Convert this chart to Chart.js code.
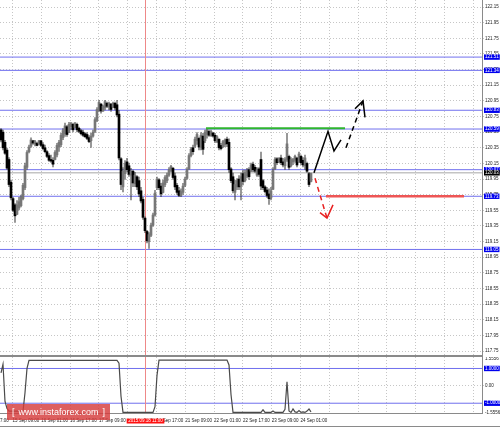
<!DOCTYPE html>
<html>
<head>
<meta charset="utf-8">
<script src="https://cdn.jsdelivr.net/npm/chart.js@4.4.1/dist/chart.umd.min.js"></script>
<style>
  body { margin: 0; background: #fff; }
  #wrap { position: relative; width: 500px; height: 427px; overflow: hidden; background: #fff; }
  #main { position: absolute; left: 0; top: 0; }
  #ind { position: absolute; left: 0; top: 357px; }
  .ln { position: absolute; background: #8a8a8a; }
  #wm { position: absolute; left: 7px; top: 404px; width: 103px; height: 16px; box-sizing: border-box; padding: 0 5px;
        background: rgba(214, 60, 60, 0.82); color: #fff; font: 9px Arial, "Liberation Sans", sans-serif;
        display: flex; align-items: center; justify-content: space-between; }
</style>
</head>
<body>
<div id="wrap">
  <canvas id="main" width="500" height="355"></canvas>
  <canvas id="ind" width="500" height="70"></canvas>
  <div class="ln" style="left:0;top:355px;width:482px;height:2px"></div>
  <div class="ln" style="left:482px;top:0;width:1px;height:414px"></div>
  <div class="ln" style="left:0;top:413px;width:483px;height:1px"></div>
  <div class="ln" style="left:0;top:426px;width:500px;height:1px"></div>
  <div id="wm"><span>[</span><span>www.instaforex.com</span><span>]</span></div>
</div>
<script>
// hourly candles (price)
const opens = [
  120.58,120.55,120.42,120.32,120.20,119.91,119.70,119.62,119.50,119.58,
  119.61,119.70,119.84,120.10,120.30,120.37,120.44,120.40,120.41,120.40,
  120.44,120.39,120.35,120.30,120.25,120.20,120.19,120.20,120.26,120.36,
  120.39,120.48,120.53,120.62,120.55,120.62,120.65,120.61,120.65,120.60,
  120.57,120.55,120.53,120.52,120.48,120.44,120.50,120.56,120.70,120.83,
  120.91,120.82,120.86,120.92,120.87,120.91,120.87,120.92,120.90,120.78,
  120.21,119.85,120.02,120.17,120.12,120.00,120.05,119.89,119.98,119.93,
  119.80,119.69,119.45,119.28,119.15,119.23,119.36,119.49,119.84,119.94,
  119.86,119.78,119.88,119.93,120.00,120.06,120.09,119.99,119.87,119.80,
  119.74,119.78,119.87,119.96,120.08,120.25,120.35,120.37,120.44,120.47,
  120.36,120.50,120.44,120.52,120.56,120.51,120.54,120.51,120.43,120.46,
  120.38,120.36,120.39,120.46,120.42,120.08,119.98,119.78,119.85,119.95,
  119.86,120.02,119.93,119.99,120.07,120.05,120.14,120.10,120.00,120.08,
  120.20,119.93,119.85,119.81,119.76,119.71,119.82,120.08,120.21,120.17,
  120.22,120.17,120.12,120.20,120.24,120.12,120.17,120.19,120.22,120.17,
  120.24,120.19,120.12,120.15,120.02,119.92
];
const closes = [
  120.45,120.35,120.28,120.09,119.88,119.71,119.55,119.48,119.62,119.66,
  119.72,119.87,120.12,120.29,120.36,120.45,120.41,120.43,120.38,120.44,
  120.38,120.34,120.30,120.24,120.19,120.18,120.14,120.29,120.38,120.42,
  120.51,120.57,120.63,120.52,120.65,120.66,120.58,120.66,120.58,120.56,
  120.53,120.51,120.49,120.47,120.43,120.50,120.55,120.71,120.84,120.93,
  120.82,120.88,120.94,120.88,120.92,120.84,120.92,120.86,120.77,120.22,
  119.88,120.05,120.15,120.07,120.01,120.05,119.90,120.00,119.85,119.76,
  119.67,119.46,119.29,119.16,119.24,119.36,119.49,119.77,119.95,119.84,
  119.76,119.90,119.97,120.00,120.07,120.11,119.97,119.85,119.78,119.74,
  119.79,119.86,119.95,120.07,120.25,120.33,120.30,120.46,120.52,120.36,
  120.51,120.33,120.55,120.58,120.51,120.56,120.50,120.44,120.49,120.35,
  120.34,120.43,120.45,120.40,120.07,119.93,119.80,119.88,119.93,119.85,
  119.98,119.92,120.03,120.06,119.98,120.13,120.07,120.05,120.07,120.01,
  119.86,119.84,119.79,119.74,119.70,119.80,120.06,120.20,120.16,120.21,
  120.16,120.13,120.20,120.40,120.10,120.20,120.20,120.24,120.13,120.27,
  120.16,120.13,120.22,120.05,119.88,120.02
];
const highs = [
  120.60,120.58,120.45,120.35,120.23,119.94,119.72,119.64,119.68,119.72,
  119.75,119.90,120.16,120.32,120.39,120.48,120.45,120.45,120.42,120.45,
  120.45,120.42,120.39,120.32,120.28,120.26,120.23,120.32,120.41,120.45,
  120.54,120.60,120.67,120.64,120.68,120.68,120.67,120.68,120.67,120.62,
  120.59,120.58,120.55,120.55,120.51,120.54,120.58,120.74,120.87,120.96,
  120.92,120.90,120.96,120.94,120.94,120.92,120.94,120.94,120.96,120.83,
  120.23,120.10,120.19,120.22,120.16,120.09,120.07,120.04,120.00,119.98,
  119.85,119.72,119.47,119.30,119.27,119.39,119.52,119.81,119.98,119.96,
  119.90,119.94,120.00,120.03,120.10,120.13,120.10,120.03,119.90,119.85,
  119.83,119.90,119.98,120.10,120.28,120.36,120.39,120.49,120.55,120.49,
  120.55,120.54,120.58,120.60,120.58,120.58,120.55,120.54,120.51,120.47,
  120.41,120.45,120.47,120.49,120.47,120.10,120.03,119.94,119.96,120.00,
  120.03,120.07,120.07,120.09,120.10,120.16,120.17,120.13,120.10,120.10,
  120.30,119.95,119.87,119.85,119.83,119.85,120.10,120.23,120.23,120.23,
  120.26,120.22,120.23,120.54,120.26,120.23,120.22,120.26,120.23,120.30,
  120.26,120.23,120.26,120.17,120.04,120.03
];
const lows = [
  120.42,120.32,120.26,120.07,119.85,119.68,119.53,119.39,119.49,119.55,
  119.59,119.68,119.81,120.07,120.28,120.35,120.39,120.37,120.37,120.39,
  120.36,120.32,120.28,120.22,120.17,120.16,120.10,120.19,120.23,120.30,
  120.36,120.45,120.49,120.49,120.54,120.58,120.55,120.60,120.55,120.54,
  120.51,120.49,120.48,120.45,120.41,120.35,120.48,120.54,120.68,120.81,
  120.79,120.81,120.83,120.86,120.83,120.81,120.86,120.83,120.74,120.19,
  119.81,119.78,119.94,120.04,119.98,119.68,119.85,119.85,119.81,119.72,
  119.64,119.43,119.26,119.13,119.06,119.21,119.34,119.47,119.81,119.81,
  119.72,119.77,119.85,119.90,119.98,120.04,119.94,119.81,119.75,119.72,
  119.72,119.75,119.85,119.94,120.07,120.23,120.26,120.35,120.39,120.32,
  120.32,120.26,120.41,120.47,120.49,120.49,120.48,120.41,120.41,120.32,
  120.32,120.35,120.36,120.36,120.03,119.90,119.77,119.68,119.81,119.81,
  119.68,119.87,119.91,119.96,119.94,120.04,120.04,120.03,119.98,119.98,
  119.81,119.81,119.77,119.71,119.62,119.68,119.81,120.07,120.13,120.16,
  120.13,120.10,120.07,120.17,120.07,120.10,120.13,120.16,120.10,120.16,
  120.13,120.10,120.07,120.03,119.85,119.91
];
// oscillator in the lower window, one value per candle
const osc = [
  0.74,1.24,-0.9,-1.3,-1.45,-1.45,-1.45,-1.45,-1.45,-1.45,
  -1.45,-1.45,-0.4,1.0,1.47,1.47,1.47,1.47,1.47,1.47,
  1.47,1.47,1.47,1.47,1.47,1.47,1.47,1.47,1.47,1.47,
  1.47,1.47,1.47,1.47,1.47,1.47,1.47,1.47,1.47,1.47,
  1.47,1.47,1.47,1.47,1.47,1.47,1.47,1.47,1.47,1.47,
  1.47,1.47,1.47,1.47,1.47,1.47,1.47,1.47,1.47,1.3,
  -0.6,-1.53,-1.53,-1.53,-1.53,-1.53,-1.53,-1.53,-1.53,-1.53,
  -1.53,-1.53,-1.53,-1.53,-1.53,-1.53,-1.53,-1.2,0.6,1.48,
  1.48,1.48,1.48,1.48,1.48,1.48,1.48,1.48,1.48,1.48,
  1.48,1.48,1.48,1.48,1.48,1.48,1.48,1.48,1.48,1.48,
  1.48,1.48,1.48,1.48,1.48,1.48,1.48,1.48,1.48,1.48,
  1.48,1.48,1.48,1.48,1.2,-0.5,-1.53,-1.53,-1.53,-1.53,
  -1.53,-1.53,-1.53,-1.53,-1.53,-1.53,-1.53,-1.53,-1.53,-1.53,
  -1.53,-1.38,-1.53,-1.53,-1.53,-1.53,-1.45,-1.53,-1.53,-1.53,
  -1.53,-1.53,-1.35,0.24,-1.45,-1.53,-1.33,-1.5,-1.53,-1.42,
  -1.53,-1.5,-1.53,-1.45,-1.33,-1.5
];

const priceTicks = [122.15,121.95,121.75,121.55,121.35,121.15,120.95,120.75,120.55,120.35,120.15,119.95,
  119.75,119.55,119.35,119.15,118.95,118.75,118.55,118.35,118.15,117.95,117.75];
const levels = [121.51, 121.34, 120.83, 120.59, 120.07, 119.73, 119.05];
const lastPrice = 120.03;
const oscTicks = [1.5556, 0, -1.5556];
const oscLevels = [1, -1];

// time axis (candle index) and its labels
const timeTickAt = [-0.5, 5.75, 20.15, 34.55, 48.95, 63.35, 77.75, 92.15, 106.55, 120.95, 135.35, 149.75,
  164.15, 178.55, 192.95, 207.35, 221.75, 236.15];
const timeLabels = ['7:00', '15 Sep 09:00', '16 Sep 01:00', '16 Sep 17:00', '17 Sep 09:00', '18 Sep 01:00',
  '18 Sep 17:00', '21 Sep 09:00', '22 Sep 01:00', '22 Sep 17:00', '23 Sep 09:00', '24 Sep 01:00',
  '', '', '', '', '', ''];
const crossAt = 72.25;
const crossText = '2015.09.18 11:00';

// drawn objects (candle index, price)
const greenLine = [{x: 102.5, y: 120.60}, {x: 172, y: 120.60}];
const redLine = [{x: 162.5, y: 119.73}, {x: 231.5, y: 119.73}];
const blackPath = [{x: 156.5, y: 120.03}, {x: 163.5, y: 120.56}, {x: 166.5, y: 120.31}, {x: 170, y: 120.45}];
const blackDash = [{x: 172.5, y: 120.35}, {x: 181, y: 120.95}];
const blackHead = [{x: 177, y: 120.85}, {x: 181, y: 120.95}, {x: 182, y: 120.74}];
const redDash = [{x: 157, y: 119.96}, {x: 163, y: 119.45}];
const redHead = [{x: 159.5, y: 119.52}, {x: 163, y: 119.45}, {x: 166, y: 119.62}];

const xMin = -0.5, xMax = 240.5;
const pMin = 117.70, pMax = 122.24;
const oMin = -1.62, oMax = 1.66;

const FONT = { family: 'Arial, "Liberation Sans", sans-serif', size: 4.5 };
const GRID = '#c6c6c6';
const LEVEL = 'rgb(112,112,238)';

function hline(v, a, b) { return [{x: a, y: v}, {x: b, y: v}]; }
function line(data, color, width, dash, order) {
  return { type: 'line', data, borderColor: color, borderWidth: width, borderDash: dash || [],
           pointRadius: 0, fill: false, tension: 0, order };
}

function xScale(showLabels) {
  return {
    type: 'linear', min: xMin, max: xMax, offset: false,
    afterBuildTicks: s => { s.ticks = timeTickAt.map(v => ({ value: v })); },
    afterFit: s => { s.paddingLeft = 0; s.paddingRight = 0; if (showLabels) s.height = 13; },
    grid: { offset: false, drawTicks: false, color: c => (c.index === 0 ? 'rgba(0,0,0,0)' : GRID) },
    border: { display: false, dash: [1, 2] },
    ticks: { display: showLabels, autoSkip: false, maxRotation: 0, minRotation: 0, align: 'start',
             padding: 4, color: '#222', font: FONT, callback: (v, i) => timeLabels[i] }
  };
}

function yScale(min, max, plain, boxed, boxColor, fmt, gridFor) {
  const isBoxed = c => c.tick && boxed.includes(c.tick.value);
  return {
    position: 'right', min, max,
    afterBuildTicks: s => { s.ticks = plain.concat(boxed).map(v => ({ value: v })); },
    afterFit: s => { s.width = 18; s.paddingTop = 0; s.paddingBottom = 0; },
    grid: { tickLength: 2, color: c => (c.tick && gridFor.includes(c.tick.value) ? GRID : 'rgba(0,0,0,0)') },
    border: { display: false, dash: [1, 2] },
    ticks: {
      autoSkip: false, padding: 1, font: FONT,
      color: c => (isBoxed(c) ? '#fff' : '#222'),
      showLabelBackdrop: c => isBoxed(c),
      backdropColor: c => boxColor(c.tick ? c.tick.value : 0),
      backdropPadding: { left: 1, right: 1, top: 0, bottom: 0 },
      callback: fmt
    }
  };
}

const common = {
  responsive: false, devicePixelRatio: 1, animation: false, events: [],
  layout: { padding: 0 },
  plugins: { legend: { display: false }, tooltip: { enabled: false } }
};

// main price window
const idx = opens.map((_, i) => i);
new Chart(document.getElementById('main'), {
  type: 'bar',
  data: {
    datasets: [
      ...levels.map(v => line(hline(v, xMin, xMax), LEVEL, 1, [], 20)),
      line(hline(lastPrice, xMin, xMax), '#c4c4c4', 1.5, [], 19),
      line(hline(0, crossAt, crossAt).map((p, k) => ({ x: crossAt, y: k ? pMax : pMin })), '#ee8888', 1, [], 18),
      { type: 'bar', data: idx.map(i => ({ x: i, y: [lows[i], highs[i]] })), backgroundColor: '#333',
        grouped: false, barPercentage: 0.5, categoryPercentage: 1, order: 6 },
      { type: 'bar', data: idx.map(i => ({ x: i, y: [opens[i], closes[i]] })),
        backgroundColor: idx.map(i => (closes[i] >= opens[i] ? '#777' : '#000')),
        grouped: false, barPercentage: 1, categoryPercentage: 1, order: 5 },
      line(greenLine, '#2fb52f', 2, [], 2),
      line(redLine, '#ee5555', 2.5, [], 2),
      line(blackPath, '#000', 1.5, [], 1),
      line(blackDash, '#000', 1.5, [5, 4], 1),
      line(blackHead, '#000', 1.5, [], 1),
      line(redDash, '#e82020', 1.5, [5, 4], 1),
      line(redHead, '#e82020', 1.5, [], 1)
    ]
  },
  options: {
    ...common,
    scales: {
      x: xScale(false),
      y: yScale(pMin, pMax, priceTicks, levels.concat([lastPrice]),
        v => (v === lastPrice ? '#000' : '#0000ee'), v => v.toFixed(2), priceTicks)
    }
  }
});

// crosshair time label on the time axis
const crossLabel = {
  id: 'crossLabel',
  afterDraw(chart) {
    const { ctx, scales: { x }, chartArea } = chart;
    const px = x.getPixelForValue(crossAt);
    ctx.save();
    ctx.font = '4.5px Arial, "Liberation Sans", sans-serif';
    const w = ctx.measureText(crossText).width + 3;
    ctx.fillStyle = '#ff1010';
    ctx.fillRect(px - w / 2, chartArea.bottom + 4.5, w, 5);
    ctx.fillStyle = '#fff';
    ctx.textAlign = 'center';
    ctx.textBaseline = 'middle';
    ctx.fillText(crossText, px, chartArea.bottom + 7);
    ctx.restore();
  }
};

// oscillator window
new Chart(document.getElementById('ind'), {
  type: 'line',
  data: {
    datasets: [
      ...oscLevels.map(v => line(hline(v, xMin, xMax), LEVEL, 1, [], 20)),
      line([{ x: crossAt, y: oMin }, { x: crossAt, y: oMax }], '#ee8888', 1, [], 18),
      line(idx.map(i => ({ x: i, y: osc[i] })), '#4a4a4a', 1.2, [], 1)
    ]
  },
  options: {
    ...common,
    scales: {
      x: xScale(true),
      y: yScale(oMin, oMax, oscTicks, oscLevels, () => '#0000ee',
        v => (v === 0 ? '0.00' : v.toFixed(4)), [0])
    }
  },
  plugins: [crossLabel]
});
</script>
</body>
</html>
